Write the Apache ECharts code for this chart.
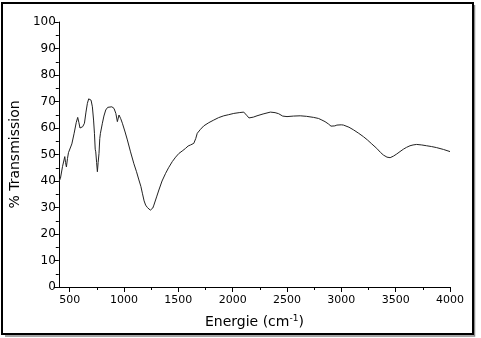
<!DOCTYPE html>
<html>
<head>
<meta charset="utf-8">
<script src="https://cdn.jsdelivr.net/npm/echarts@6/dist/echarts.min.js"></script>
<style>
    html, body { margin: 0; padding: 0; background: #fff; }
    #spectre { width: 481px; height: 338px; }
</style>
</head>
<body>
<div id="spectre"></div>
<script>
// nombre d'onde (cm-1)
var energie = [
    400, 415, 434, 445, 455, 462, 470, 480, 489, 498, 507, 520, 541, 560, 574, 585, 595, 605, 620, 636,
    650, 663, 675, 685, 697, 709, 720, 728, 735, 740, 748, 755, 762, 770, 777, 783, 792, 801, 815, 832,
    850, 868, 888, 908, 925, 939, 954, 970, 985, 1010, 1031, 1060, 1091, 1115, 1137, 1155, 1169, 1185, 1199, 1215,
    1229, 1242, 1254, 1265, 1275, 1300, 1321, 1350, 1383, 1410, 1444, 1475, 1505, 1535, 1566, 1590, 1612, 1642, 1660, 1674,
    1704, 1734, 1780, 1826, 1870, 1918, 1960, 2010, 2060, 2102, 2118, 2133, 2150, 2163, 2190, 2224, 2280, 2347, 2390, 2423,
    2460, 2500, 2560, 2622, 2680, 2745, 2790, 2821, 2850, 2882, 2905, 2922, 2940, 2959, 3000, 3020, 3070, 3112, 3160, 3204,
    3240, 3280, 3326, 3360, 3387, 3420, 3449, 3480, 3510, 3540, 3571, 3600, 3632, 3660, 3693, 3740, 3785, 3830, 3877, 3940,
    4000
];
// % transmission
var transmission = [
    39.7, 41, 45.4, 46, 49.2, 47, 45.3, 48.5, 50.7, 50, 51, 54, 58, 62, 64, 62, 60, 59.5, 60.5, 61.8,
    66, 69.3, 71, 71.6, 70.5, 68, 63, 58, 52, 51, 47, 43.5, 47, 50.4, 56, 58, 57.4, 61.8, 64.5, 66.8,
    67.8, 68.3, 68, 67.4, 65.5, 62.4, 64.9, 63.5, 61.8, 58.5, 55.5, 51, 46.5, 43.5, 40.4, 38, 35.4, 32.5, 30.9, 30,
    29.7, 29, 28.6, 29.8, 30.9, 34, 36.6, 40, 42.9, 45, 47.3, 49, 50.4, 51.3, 52.3, 53.2, 53.6, 54.2, 56, 58,
    59.5, 60.8, 62, 63, 63.9, 64.6, 65, 65.5, 65.8, 66, 65.5, 64.6, 63.8, 63.7, 64.1, 64.6, 65.3, 66, 65.8, 65.4,
    64.5, 64.3, 64.5, 64.6, 64.4, 64, 63.6, 63, 62.4, 61.5, 60.7, 60.3, 60.8, 61.1, 61.2, 61.1, 60.3, 59.3, 58, 56.7,
    55.5, 54, 52.3, 50.8, 49.8, 49, 48.8, 49.4, 50.2, 51.1, 52, 52.7, 53.3, 53.6, 53.8, 53.6, 53.3, 53, 52.6, 51.9,
    51.1
];
var xMajor = [500, 1000, 1500, 2000, 2500, 3000, 3500, 4000];
var xMinor = [750, 1250, 1750, 2250, 2750, 3250, 3750];

var points = energie.map(function (e, i) { return [e, transmission[i]]; });
var police = 'DejaVu Sans';

var myChart = echarts.init(document.getElementById('spectre'));
var option = {
    animation: false,
    backgroundColor: '#fff',
    grid: { left: 58, right: 31, top: 22, bottom: 51 },
    xAxis: [{
        type: 'value',
        min: 400,
        max: 4000,
        name: 'Energie (cm{sup|-1})',
        nameLocation: 'middle',
        nameGap: 27,
        nameTextStyle: {
            fontFamily: police, fontSize: 14, color: '#000',
            rich: { sup: { fontFamily: police, fontSize: 9, color: '#000', verticalAlign: 'top', padding: [0, 0, 8, 0] } }
        },
        axisLine: { lineStyle: { color: '#000', width: 1 } },
        axisTick: { length: 5, customValues: xMajor, lineStyle: { color: '#000' } },
        axisLabel: {
            customValues: xMajor, margin: 8, fontFamily: police, fontSize: 11, color: '#000',
            formatter: function (v) { return String(v); }
        },
        splitLine: { show: false }
    }, {
        type: 'value',
        min: 400,
        max: 4000,
        position: 'bottom',
        axisLine: { show: false },
        axisTick: { length: 3, customValues: xMinor, lineStyle: { color: '#000' } },
        axisLabel: { show: false },
        splitLine: { show: false }
    }],
    yAxis: {
        type: 'value',
        min: 0,
        max: 100,
        interval: 10,
        name: '% Transmission',
        nameLocation: 'middle',
        nameGap: 30,
        nameTextStyle: { fontFamily: police, fontSize: 14, color: '#000' },
        axisLine: { show: true, lineStyle: { color: '#000', width: 1 } },
        axisTick: { show: true, length: 5, lineStyle: { color: '#000' } },
        minorTick: { show: true, splitNumber: 2, length: 3, lineStyle: { color: '#000' } },
        axisLabel: { margin: 3, fontFamily: police, fontSize: 12, color: '#000' },
        splitLine: { show: false }
    },
    series: [{
        type: 'line',
        data: points,
        showSymbol: false,
        lineStyle: { color: '#222', width: 1 }
    }],
    graphic: [
        { type: 'polyline', shape: { points: [[5, 336], [474.5, 336], [474.5, 5]] }, style: { stroke: '#888', lineWidth: 1.5, fill: null } },
        { type: 'rect', shape: { x: 2, y: 3, width: 471, height: 331 }, style: { stroke: '#000', lineWidth: 2, fill: null } }
    ]
};
myChart.setOption(option);
</script>
</body>
</html>
